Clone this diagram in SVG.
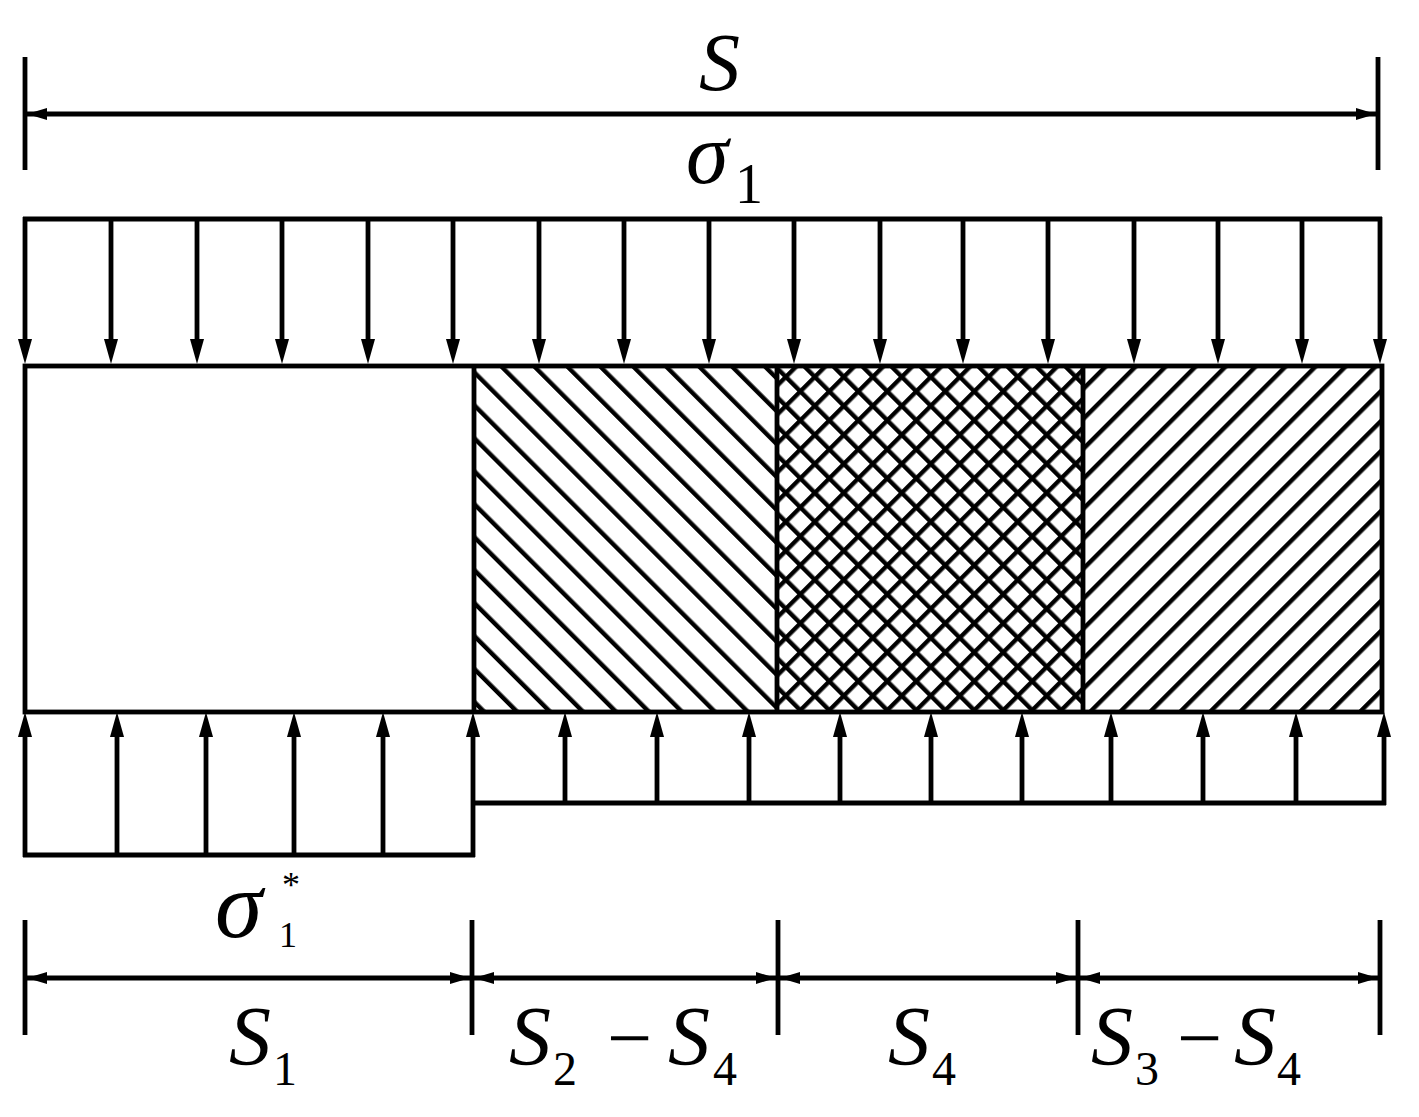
<svg xmlns="http://www.w3.org/2000/svg" width="1419" height="1117" viewBox="0 0 1419 1117">
<style>
.ln{stroke:#000;stroke-width:4.8;fill:none}
.ld{stroke:#000;stroke-width:4.8;fill:none;marker-end:url(#ah)}
.dim{stroke:#000;stroke-width:4.8;fill:none;marker-start:url(#dh);marker-end:url(#dh)}
.t{fill:#000;font-family:'Liberation Serif','Times New Roman',Times,serif}
.i{font-style:italic}
</style>
<defs>
<marker id="ah" markerUnits="userSpaceOnUse" markerWidth="30" markerHeight="20" refX="0" refY="0" orient="auto" overflow="visible"><path d="M-1,-7 L24,0 L-1,7 Z" fill="#000"/></marker>
<marker id="dh" markerUnits="userSpaceOnUse" markerWidth="30" markerHeight="20" refX="0" refY="0" orient="auto-start-reverse" overflow="visible"><path d="M0,0 L-20,-6 L-20,6 Z" fill="#000"/></marker>
<pattern id="hb" patternUnits="userSpaceOnUse" width="23.3" height="20" patternTransform="rotate(-45)"><rect x="0" y="0" width="4.4" height="20" fill="#000"/></pattern>
<pattern id="hf" patternUnits="userSpaceOnUse" width="21.2" height="20" patternTransform="rotate(45)"><rect x="0" y="0" width="4.4" height="20" fill="#000"/></pattern>
<pattern id="hc1" patternUnits="userSpaceOnUse" width="20.5" height="20" patternTransform="rotate(45)"><rect x="0" y="0" width="4.4" height="20" fill="#000"/></pattern>
<pattern id="hc2" patternUnits="userSpaceOnUse" width="20.5" height="20" patternTransform="rotate(-45)"><rect x="0" y="0" width="4.4" height="20" fill="#000"/></pattern>
</defs>

<g id="body">
<rect x="474" y="366" width="303" height="346" fill="url(#hb)"/>
<rect x="777" y="366" width="306" height="346" fill="url(#hc1)"/>
<rect x="777" y="366" width="306" height="346" fill="url(#hc2)"/>
<rect x="1083" y="366" width="299" height="346" fill="url(#hf)"/>
<rect class="ln" x="25" y="366" width="1357" height="346"/>
<line class="ln" x1="474" y1="366" x2="474" y2="712"/>
<line class="ln" x1="777" y1="366" x2="777" y2="712"/>
<line class="ln" x1="1083" y1="366" x2="1083" y2="712"/>
</g>

<g id="top-load">
<line class="ln" x1="23" y1="219" x2="1382" y2="219"/>
<line class="ld" x1="25" y1="217" x2="25" y2="340"/>
<line class="ld" x1="111" y1="219" x2="111" y2="340"/>
<line class="ld" x1="197" y1="219" x2="197" y2="340"/>
<line class="ld" x1="282" y1="219" x2="282" y2="340"/>
<line class="ld" x1="368" y1="219" x2="368" y2="340"/>
<line class="ld" x1="453" y1="219" x2="453" y2="340"/>
<line class="ld" x1="539" y1="219" x2="539" y2="340"/>
<line class="ld" x1="624" y1="219" x2="624" y2="340"/>
<line class="ld" x1="709" y1="219" x2="709" y2="340"/>
<line class="ld" x1="794" y1="219" x2="794" y2="340"/>
<line class="ld" x1="880" y1="219" x2="880" y2="340"/>
<line class="ld" x1="963" y1="219" x2="963" y2="340"/>
<line class="ld" x1="1048" y1="219" x2="1048" y2="340"/>
<line class="ld" x1="1134" y1="219" x2="1134" y2="340"/>
<line class="ld" x1="1218" y1="219" x2="1218" y2="340"/>
<line class="ld" x1="1302" y1="219" x2="1302" y2="340"/>
<line class="ld" x1="1380" y1="217" x2="1380" y2="340"/>
</g>

<g id="bottom-load-left">
<line class="ln" x1="23" y1="855" x2="475" y2="855"/>
<line class="ld" x1="25" y1="857" x2="25" y2="736"/>
<line class="ld" x1="117" y1="855" x2="117" y2="736"/>
<line class="ld" x1="206" y1="855" x2="206" y2="736"/>
<line class="ld" x1="294" y1="855" x2="294" y2="736"/>
<line class="ld" x1="383" y1="855" x2="383" y2="736"/>
<line class="ld" x1="473" y1="857" x2="473" y2="736"/>
</g>

<g id="bottom-load-right">
<line class="ln" x1="473" y1="803" x2="1386" y2="803"/>
<line class="ld" x1="565" y1="803" x2="565" y2="736"/>
<line class="ld" x1="657" y1="803" x2="657" y2="736"/>
<line class="ld" x1="749" y1="803" x2="749" y2="736"/>
<line class="ld" x1="840" y1="803" x2="840" y2="736"/>
<line class="ld" x1="931" y1="803" x2="931" y2="736"/>
<line class="ld" x1="1022" y1="803" x2="1022" y2="736"/>
<line class="ld" x1="1111" y1="803" x2="1111" y2="736"/>
<line class="ld" x1="1203" y1="803" x2="1203" y2="736"/>
<line class="ld" x1="1296" y1="803" x2="1296" y2="736"/>
<line class="ld" x1="1384" y1="805" x2="1384" y2="736"/>
</g>

<g id="connectors">
<line class="ln" x1="25" y1="57" x2="25" y2="170"/>
<line class="ln" x1="1378" y1="57" x2="1378" y2="170"/>
<path class="dim" d="M27,114H1376"/>
<line class="ln" x1="25" y1="920" x2="25" y2="1035"/>
<line class="ln" x1="472" y1="920" x2="472" y2="1035"/>
<line class="ln" x1="778" y1="920" x2="778" y2="1035"/>
<line class="ln" x1="1078" y1="920" x2="1078" y2="1035"/>
<line class="ln" x1="1380" y1="920" x2="1380" y2="1035"/>
<path class="dim" d="M27,978H470"/>
<path class="dim" d="M474,978H776"/>
<path class="dim" d="M780,978H1076"/>
<path class="dim" d="M1080,978H1378"/>
</g>

<g id="labels">
<text class="t i" x="699" y="90" font-size="82">S</text>
<text class="t" y="183"><tspan class="i" x="686" font-size="86">σ</tspan><tspan x="735" y="203" font-size="56">1</tspan></text>
<text class="t" y="937"><tspan class="i" x="215" font-size="96">σ</tspan><tspan x="279" y="947" font-size="36">1</tspan><tspan x="282" y="897" font-size="36">*</tspan></text>
<text class="t" y="1065"><tspan class="i" x="229" font-size="84">S</tspan><tspan x="273" y="1085" font-size="48">1</tspan></text>
<text class="t" y="1065"><tspan class="i" x="509" font-size="84">S</tspan><tspan x="553" y="1085" font-size="48">2</tspan><tspan x="607" y="1065" font-size="80">−</tspan><tspan class="i" x="668" font-size="84">S</tspan><tspan x="713" y="1085" font-size="48">4</tspan></text>
<text class="t" y="1065"><tspan class="i" x="888" font-size="84">S</tspan><tspan x="932" y="1085" font-size="48">4</tspan></text>
<text class="t" y="1065"><tspan class="i" x="1091" font-size="84">S</tspan><tspan x="1135" y="1085" font-size="48">3</tspan><tspan x="1177" y="1065" font-size="80">−</tspan><tspan class="i" x="1234" font-size="84">S</tspan><tspan x="1277" y="1085" font-size="48">4</tspan></text>
</g>
</svg>
